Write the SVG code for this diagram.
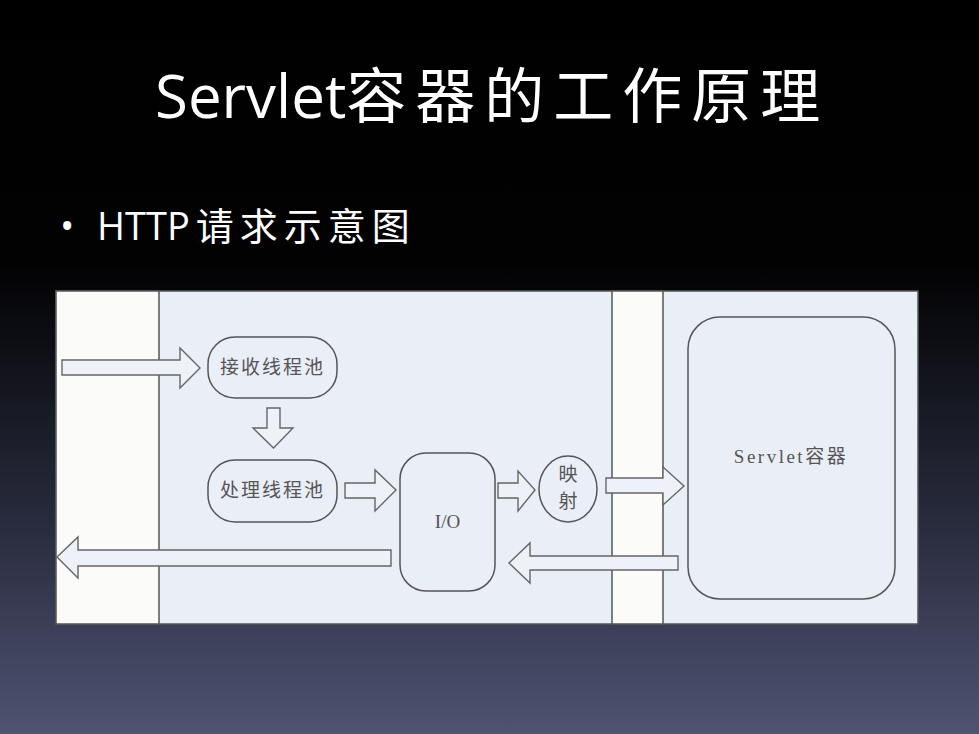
<svg xmlns="http://www.w3.org/2000/svg" width="979" height="734" viewBox="0 0 979 734">
<defs>
<linearGradient id="bg" x1="0" y1="0" x2="0" y2="1">
<stop offset="0" stop-color="#000000"/>
<stop offset="0.36" stop-color="#020203"/>
<stop offset="0.7" stop-color="#272a3b"/>
<stop offset="1" stop-color="#505371"/>
</linearGradient>
<style>
.title{font-family:"Open Sans","Noto Sans CJK SC",sans-serif;fill:#ffffff}
.panel{fill:#eaeef7;stroke:#555;stroke-width:1.5}
.col{fill:#fbfbfa;stroke:#555;stroke-width:1.5}
.node{fill:#eaeef7;stroke:#555;stroke-width:1.5}
.lbl{font-family:"Liberation Serif","Noto Sans CJK SC",serif;fill:#555;font-size:19px;text-anchor:middle}
.arr{fill:#eef1f8;stroke:#666;stroke-width:1.4;stroke-linejoin:miter}
</style>
</defs>
<rect x="0" y="0" width="979" height="734" fill="url(#bg)"/>
<text class="title" x="155" y="118" font-size="60">Servlet<tspan letter-spacing="9">容器的工作原理</tspan></text>
<text class="title" x="60" y="240" font-size="38">•</text>
<text class="title" x="97" y="240" font-size="38">HTTP<tspan dx="6" letter-spacing="6">请求示意图</tspan></text>
<g id="frame">
<rect class="panel" x="56" y="291" width="862" height="333"/>
<rect class="col" x="56" y="291" width="103" height="333"/>
<rect class="col" x="612" y="291" width="51" height="333"/>
</g>
<g id="recv">
<rect class="node" x="208" y="337" width="129" height="61" rx="27"/>
<text class="lbl" x="272.5" y="374" letter-spacing="2">接收线程池</text>
</g>
<g id="proc">
<rect class="node" x="208" y="460" width="129" height="62" rx="27"/>
<text class="lbl" x="272.5" y="497" letter-spacing="2">处理线程池</text>
</g>
<g id="io">
<rect class="node" x="400" y="453" width="95" height="138" rx="26"/>
<text class="lbl" x="447.5" y="528">I/O</text>
</g>
<g id="map">
<ellipse class="node" cx="568" cy="489" rx="29" ry="33"/>
<text class="lbl" x="568" y="481">映</text>
<text class="lbl" x="568" y="508">射</text>
</g>
<g id="servlet">
<rect class="node" x="688" y="317" width="207" height="282" rx="32"/>
<text class="lbl" x="791" y="463" letter-spacing="2.5">Servlet容器</text>
</g>
<g id="connectors">
<polygon class="arr" points="62,360 180,360 180,348 200,368 180,388 180,375 62,375"/>
<polygon class="arr" points="267,408 280,408 280,428 293,428 273.5,448 253,428 267,428"/>
<polygon class="arr" points="345,483 375,483 375,470 396,490 375,511 375,498 345,498"/>
<polygon class="arr" points="498,483 518,483 518,471 535,490 518,511 518,498 498,498"/>
<polygon class="arr" points="606,478 663,478 663,467 684,486 663,505 663,493 606,493"/>
<polygon class="arr" points="678,556 530,556 530,543 509,563 530,583 530,570 678,570"/>
<polygon class="arr" points="391,550 78,550 78,537 57,557 78,578 78,566 391,566"/>
</g>
</svg>
